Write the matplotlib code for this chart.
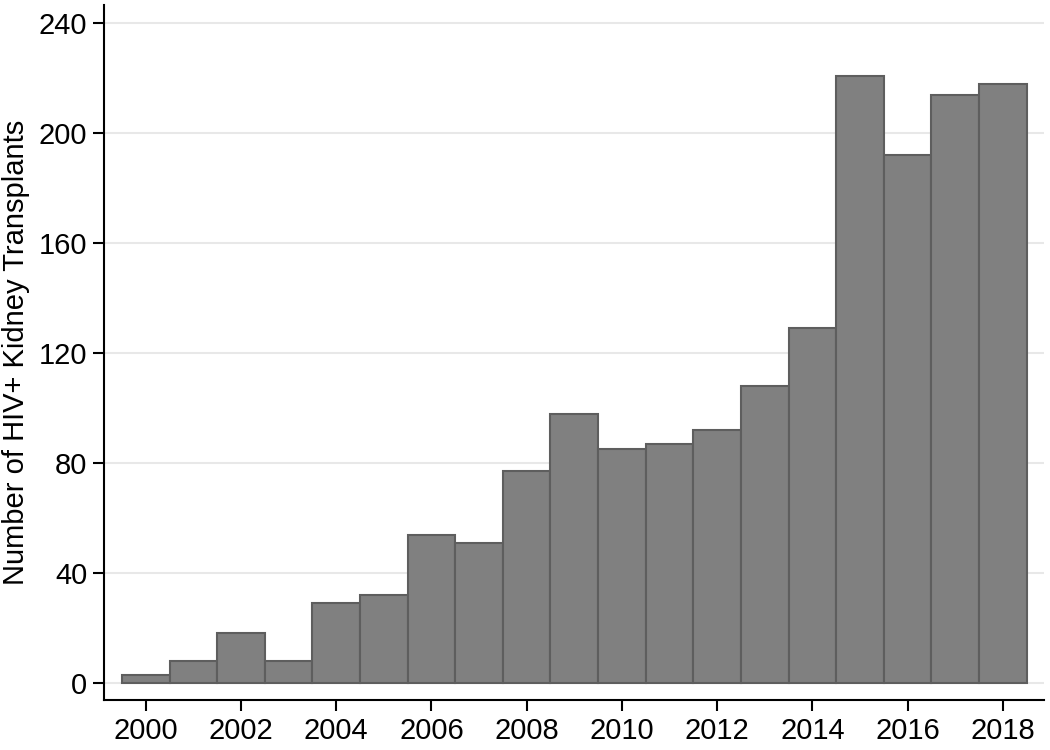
import matplotlib
matplotlib.use('Agg')
import matplotlib.pyplot as plt

# transplants per year
years = list(range(2000, 2019))
counts = [3, 8, 18, 8, 29, 32, 54, 51, 77, 98, 85, 87, 92, 108, 129, 221, 192, 214, 218]

plt.rcParams['font.family'] = ['Liberation Sans', 'DejaVu Sans']

fig = plt.figure(figsize=(10.5, 7.5), dpi=100)
ax = fig.add_axes([0.099, 0.0667, 0.895, 0.926])

ax.bar(years, counts, width=1.0, color='#808080', edgecolor='#5e5e5e', linewidth=1.5, zorder=3)

ax.set_xlim(1999.12, 2018.86)
ax.set_ylim(-6.2, 246.5)
ax.set_xticks(range(2000, 2019, 2))
ax.set_yticks(range(0, 241, 40))
ax.yaxis.grid(True, color='#e8e8e8', linewidth=1.5, zorder=0)

for s in ['top', 'right']:
    ax.spines[s].set_visible(False)
for s in ['left', 'bottom']:
    ax.spines[s].set_linewidth(1.5)

ax.tick_params(axis='both', labelsize=21, length=8, width=1.5, pad=4)
ax.set_ylabel('Number of HIV+ Kidney Transplants', fontsize=21, labelpad=6)

fig.savefig('out.png', dpi=100)
